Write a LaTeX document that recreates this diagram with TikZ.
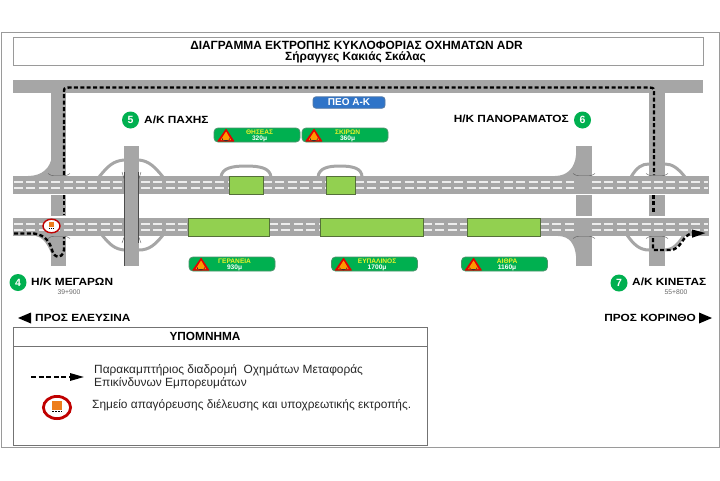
\documentclass[tikz,border=0pt]{standalone}
\usepackage{fontspec}
\setmainfont{Liberation Sans}
\newfontfamily\widefont[FakeStretch=1.14]{Liberation Sans}
\usetikzlibrary{arrows.meta, calc}
\definecolor{roadgray}{HTML}{A6A6A6}
\definecolor{lanewhite}{HTML}{EDEDED}
\definecolor{tunnelgreen}{HTML}{92D050}
\definecolor{tunneledge}{HTML}{55703A}
\definecolor{signgreen}{HTML}{00B050}
\definecolor{signyellow}{HTML}{E6F22A}
\definecolor{framegray}{HTML}{9A9A9A}
\definecolor{peoblue}{HTML}{2F74C8}
\definecolor{banred}{HTML}{C00000}
\definecolor{banorange}{HTML}{ED7D1C}
\tikzset{
  road/.style={fill=roadgray},
  lane/.style={draw=lanewhite, line width=1.2pt, dash pattern=on 9pt off 3.4pt},
  ramp/.style={draw=roadgray, line width=3pt},
  basemark/.style={draw=gray!70!black, line width=0.4pt},
  tunnel/.style={draw=tunneledge, fill=tunnelgreen, line width=0.9pt},
  route/.style={draw=black, line width=2.4pt, dash pattern=on 4pt off 2.4pt},
  routetip/.style={-{Triangle[length=14pt,width=7.5pt]}},
  frame/.style={draw=framegray, line width=1pt},
  tunnelsign/.style={draw=gray!60!signgreen, fill=signgreen, rounded corners=4pt,
    line width=0.8pt, minimum width=86pt, minimum height=14pt, inner sep=0pt},
  signtitle/.style={text=signyellow, font=\bfseries\fontsize{6.6}{7}\selectfont, inner sep=0pt},
  signlength/.style={text=white, font=\bfseries\fontsize{6.6}{7}\selectfont, inner sep=0pt},
  exitdot/.style={circle, fill=signgreen, minimum size=17pt, inner sep=0pt, text=white,
    font=\bfseries\fontsize{10.5}{11}\selectfont},
  exitname/.style={font=\widefont\bfseries\fontsize{10.4}{12}\selectfont, inner sep=0pt},
  chainage/.style={text=gray!80!black, font=\fontsize{6.8}{7}\selectfont, inner sep=0pt},
  legendtext/.style={anchor=west, inner sep=0pt, font=\fontsize{11.9}{13}\selectfont, text=black!85},
}
\begin{document}
\begin{tikzpicture}[x=1pt, y=-1pt, >=Stealth]
    \useasboundingbox (0,0) rectangle (720,480);

    % frames
    \draw[frame] (1,32.5) rectangle (719,447);
    \node[frame, fill=white, minimum width=690pt, minimum height=28pt, inner sep=0pt] (titlebox) at (358,51) {};
    \node[inner sep=0pt, font=\bfseries\fontsize{11.9}{14}\selectfont] (title1) at (356.5,45)
      {ΔΙΑΓΡΑΜΜΑ ΕΚΤΡΟΠΗΣ ΚΥΚΛΟΦΟΡΙΑΣ ΟΧΗΜΑΤΩΝ ADR};
    \node[inner sep=0pt, font=\bfseries\fontsize{11.9}{14}\selectfont] (title2) at (355.5,57.5)
      {Σήραγγες Κακιάς Σκάλας};

    % verticals
    \fill[road] (13,80) rectangle (703,93);
    \fill[road] (51,93) rectangle (66,176);
    \fill[road] (649,93) rectangle (665,176);
    \foreach \x/\w in {51/15,576/16,649/16}{
      \fill[road] (\x,195) rectangle ++(\w,21);
      \fill[road] (\x,236) rectangle ++(\w,30);
    }
    \fill[road] (576,146) rectangle (592,176);

    % ramps
    \fill[road] (52,155) .. controls (51,168) and (42,176) .. (28,176) -- (52,176) -- cycle;
    \fill[road] (576,155) .. controls (575,168) and (567,176) .. (555,176) -- (576,176) -- cycle;
    \fill[road] (576,256) .. controls (575,245) and (570,236) .. (558,236) -- (576,236) -- cycle;
    \fill[road] (51,253) .. controls (47,243) and (42,237) .. (36,236) -- (51,236) -- cycle;
    \draw[ramp] (99,177) .. controls (108,166) and (113,161) .. (124,160);
    \draw[ramp] (139,160) .. controls (149,161) and (155,167) .. (163,177);
    \draw[ramp] (102,235) .. controls (110,245) and (115,249) .. (124,250);
    \draw[ramp] (139,250) .. controls (149,250) and (155,245) .. (163,235);
    \draw[ramp] (631,177) .. controls (637,167) and (642,164) .. (649,164);
    \draw[ramp] (665,164) .. controls (672,164) and (678,168) .. (685,177);
    \draw[ramp] (627,235) .. controls (634,245) and (640,250) .. (649,250);
    \draw[ramp] (665,250) .. controls (672,250) and (678,245) .. (684,235);
    \draw[ramp] (221,177) .. controls (222,168) and (232,166) .. (246,166) .. controls (260,166) and (270,168) .. (271,177);
    \draw[ramp] (318,177) .. controls (319,168) and (328,166) .. (340,166) .. controls (352,166) and (362,168) .. (362,177);

    % main roads
    \fill[road] (13,176) rectangle (709,194);
    \fill[road] (13,218) rectangle (709,236);

    % lanes
    \foreach \y in {182,188}{
      \foreach \a/\b in {14/122,141/229,263/326,355/574,592/708}{
        \draw[lane] (\a,\y) -- (\b,\y);
      }
    }
    \foreach \y in {224,230}{
      \foreach \a/\b in {14/122,141/188,269/320,423/467,540/576,592/708}{
        \draw[lane] (\a,\y) -- (\b,\y);
      }
    }

    % marks at the foot of the side roads
    \foreach \x in {48,573,646}{
      \draw[basemark] (\x,173.5) .. controls (\x+3,175.5) .. (\x+6,175.5) -- (\x+16,175.5) .. controls (\x+19,175.5) .. (\x+22,173.5);
      \draw[basemark] (\x,238.5) .. controls (\x+3,236.5) .. (\x+6,236.5) -- (\x+16,236.5) .. controls (\x+19,236.5) .. (\x+22,238.5);
    }

    % overpass
    \fill[road] (124,146) rectangle (139,266);
    \draw[gray!60!black, line width=0.5pt] (124.5,172) -- (124.5,266) (138.5,172) -- (138.5,243);
    \draw[basemark] (122,172) -- (124.5,180) (141,172) -- (138.5,180) (122,243) -- (124.5,236) (141,243) -- (138.5,236);

    % tunnels
    \foreach \a/\b/\y in {229/263/176,326/355/176,188/269/218,320/423/218,467/540/218}{
      \draw[tunnel] (\a,\y) rectangle (\b,\y+18);
    }

    % route
    \draw[route] (64,175) -- (64,93) .. controls (64,88) .. (69,87.5) -- (649,87.5) .. controls (654,88) .. (654,93) -- (654,175);
    \draw[route] (64,195) -- (64,215);
    \draw[route] (653.5,195) -- (653.5,214);
    \draw[route] (14,233.5) -- (34,233.5) .. controls (46,235) and (50,243) .. (52,250) .. controls (54,258) and (62,260) .. (64,250) -- (64,237);
    \draw[route, routetip] (653,238) -- (653,250) -- (670,250) .. controls (682,250) and (682,234) .. (706,233);

    % ban sign on the road
    \draw[banred, fill=white, line width=1.4pt] (51.5,226) ellipse (8.5 and 6.8);
    \fill[banorange] (49,222) rectangle (54,227);
    \draw[black, line width=0.6pt, dash pattern=on 1pt off 0.8pt] (49,228.5) -- (54,228.5);

    % exits
    \node[exitdot] (exit5) at (130.5,120) {5};
    \node[exitname, anchor=west] (name5) at (144,119.5) {Α/Κ ΠΑΧΗΣ};
    \node[exitdot] (exit6) at (582.5,120) {6};
    \node[exitname, anchor=east] (name6) at (569,118.5) {Η/Κ ΠΑΝΟΡΑΜΑΤΟΣ};
    \node[exitdot] (exit4) at (18,282.5) {4};
    \node[exitname, anchor=west] (name4) at (31,282) {Η/Κ ΜΕΓΑΡΩΝ};
    \node[chainage] (km4) at (69,292.5) {39+900};
    \node[exitdot] (exit7) at (619,283) {7};
    \node[exitname, anchor=west] (name7) at (632,282) {Α/Κ ΚΙΝΕΤΑΣ};
    \node[chainage] (km7) at (676,292.5) {55+800};

    % directions
    \node[exitname, anchor=west] (toleft) at (35,318) {ΠΡΟΣ ΕΛΕΥΣΙΝΑ};
    \fill (18,318) -- (31,312.5) -- (31,323.5) -- cycle;
    \node[exitname, anchor=east] (toright) at (696,318) {ΠΡΟΣ ΚΟΡΙΝΘΟ};
    \fill (712,318) -- (699,312.5) -- (699,323.5) -- cycle;

    % PEO
    \node[draw=gray!50!peoblue, fill=peoblue, rounded corners=3pt, line width=0.8pt, minimum width=72pt,
      minimum height=11.5pt, inner sep=0pt, text=white, font=\bfseries\fontsize{10}{11}\selectfont] (peo) at (349,102.5) {ΠΕΟ Α-Κ};

    % tunnel signs
    \foreach \i/\px/\py/\nm/\len in {1/257/135/ΘΗΣΕΑΣ/320μ,2/345/135/ΣΚΙΡΩΝ/360μ,3/232/264/ΓΕΡΑΝΕΙΑ/930μ,
        4/374.5/264/ΕΥΠΑΛΙΝΟΣ/1700μ,5/504.5/264/ΑΙΘΡΑ/1160μ}{
      \node[tunnelsign] (sign\i) at (\px,\py) {};
      \fill[red!90!black, rounded corners=0.5pt] ($(sign\i.west)+(3.5,6.5)$) -- ($(sign\i.west)+(12.5,-6.5)$) -- ($(sign\i.west)+(21,6.5)$) -- cycle;
      \fill[orange!80!yellow] ($(sign\i.west)+(7,5)$) -- ($(sign\i.west)+(12.5,-3.5)$) -- ($(sign\i.west)+(17.5,5)$) -- cycle;
      \fill[black!80] ($(sign\i.west)+(8.5,5)$) -- ($(sign\i.west)+(8.5,2.5)$) arc (180:0:3.8) -- ($(sign\i.west)+(16,5)$) -- cycle;
      \node[signtitle] (signname\i) at ($(sign\i.west)+(46,-3)$) {\nm};
      \node[signlength] (signlen\i) at ($(sign\i.west)+(46,3.5)$) {\len};
    }

    % legend
    \draw[frame, draw=gray!90!black] (13,327) rectangle (427,445);
    \draw[frame, draw=gray!90!black] (13,346) -- (427,346);
    \node[inner sep=0pt, font=\bfseries\fontsize{11.8}{13}\selectfont] (legendhead) at (205,336) {ΥΠΟΜΝΗΜΑ};
    \draw[route, routetip, line width=1.6pt, dash pattern=on 5pt off 2.6pt] (31,377) -- (84,377);
    \node[legendtext] (legend1) at (94,370) {Παρακαμπτήριος διαδρομή\ \ Οχημάτων Μεταφοράς};
    \node[legendtext] (legend2) at (94,383) {Επικίνδυνων Εμπορευμάτων};
    \draw[banred, fill=white, line width=2.8pt] (57,407.5) ellipse (13.6 and 11.1);
    \fill[banorange] (52,401) rectangle (62,410);
    \draw[black, line width=0.9pt, dash pattern=on 2pt off 1pt] (52,411.5) -- (62,411.5);
    \node[legendtext] (legend3) at (92,405.5) {Σημείο απαγόρευσης διέλευσης και υποχρεωτικής εκτροπής.};
\end{tikzpicture}
\end{document}
